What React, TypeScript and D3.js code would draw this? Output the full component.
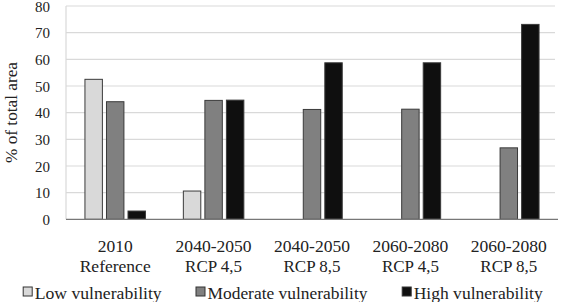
import React, { useEffect, useRef } from "react";
import * as d3 from "d3";

const categories = [
  ["2010", "Reference"],
  ["2040-2050", "RCP 4,5"],
  ["2040-2050", "RCP 8,5"],
  ["2060-2080", "RCP 4,5"],
  ["2060-2080", "RCP 8,5"],
];
const seriesNames = ["Low vulnerability", "Moderate vulnerability", "High vulnerability"];
const lowValues = [52.5, 10.6, 0, 0, 0];
const moderateValues = [44.1, 44.6, 41.2, 41.3, 26.8];
const highValues = [3.1, 44.7, 58.7, 58.7, 73.1];
const yTicks = [0, 10, 20, 30, 40, 50, 60, 70, 80];

const fills = ["#d9d9d9", "#808080", "#0f0f0f"];
const FONT = "'Liberation Serif', 'Times New Roman', Times, serif";

// set widths so the labels keep a narrow, Times-like footprint
const labelWidth: Record<string, number> = {
  "2010": 35,
  "2040-2050": 76,
  "2060-2080": 76,
  "Reference": 71,
  "RCP 4,5": 57,
  "RCP 8,5": 57,
  "Low vulnerability": 127,
  "Moderate vulnerability": 160,
  "High vulnerability": 129,
};

export default function App() {
  const ref = useRef<SVGSVGElement>(null);

  useEffect(() => {
    const svg = d3.select(ref.current);
    svg.selectAll("*").remove();

    const left = 66, right = 558, top = 6, bottom = 219.3;

    const x = d3.scaleBand<number>()
      .domain(d3.range(categories.length))
      .range([left, right])
      .padding(0);
    const inner = d3.scaleBand<number>()
      .domain([0, 1, 2])
      .range([0, x.bandwidth()])
      .paddingInner(0.19)
      .paddingOuter(0.88);
    const y = d3.scaleLinear().domain([0, 80]).range([bottom, top]);

    // gridlines
    svg.append("g")
      .selectAll("line")
      .data(yTicks.filter(t => t > 0))
      .join("line")
      .attr("x1", left)
      .attr("x2", right - 3)
      .attr("y1", d => y(d))
      .attr("y2", d => y(d))
      .attr("stroke", "#d9d9d9")
      .attr("stroke-width", 1.2);

    // left edge of plot area
    svg.append("line")
      .attr("x1", left).attr("x2", left)
      .attr("y1", top).attr("y2", bottom)
      .attr("stroke", "#d9d9d9")
      .attr("stroke-width", 1.2);

    // y tick labels
    svg.append("g")
      .selectAll("text")
      .data(yTicks)
      .join("text")
      .attr("x", 50)
      .attr("y", d => y(d) + 5.6)
      .attr("text-anchor", "end")
      .style("font-family", FONT)
      .style("font-size", "15px")
      .attr("fill", "#222")
      .text(d => d);

    // y axis title
    svg.append("text")
      .attr("transform", `translate(16.5, 112.5) rotate(-90)`)
      .attr("text-anchor", "middle")
      .attr("textLength", 101)
      .attr("lengthAdjust", "spacingAndGlyphs")
      .style("font-family", FONT)
      .style("font-size", "16px")
      .attr("fill", "#222")
      .text("% of total area");

    // bars
    const series = [lowValues, moderateValues, highValues];
    series.forEach((vals, si) => {
      svg.append("g")
        .selectAll("rect")
        .data(vals.map((v, i) => ({ v, i })).filter(d => d.v > 0))
        .join("rect")
        .attr("x", d => (x(d.i) as number) + (inner(si) as number))
        .attr("y", d => y(d.v))
        .attr("width", inner.bandwidth())
        .attr("height", d => bottom - y(d.v))
        .attr("fill", fills[si])
        .attr("stroke", "#3a3a3a")
        .attr("stroke-width", 1);
    });

    // x axis line
    svg.append("line")
      .attr("x1", left).attr("x2", right)
      .attr("y1", bottom).attr("y2", bottom)
      .attr("stroke", "#777")
      .attr("stroke-width", 1.3);

    // category labels
    const catG = svg.append("g");
    categories.forEach((lines, i) => {
      const cx = (x(i) as number) + x.bandwidth() / 2;
      lines.forEach((t, li) => {
        catG.append("text")
          .attr("x", cx)
          .attr("y", 252.3 + li * 19.4)
          .attr("text-anchor", "middle")
          .attr("textLength", labelWidth[t])
          .attr("lengthAdjust", "spacingAndGlyphs")
          .style("font-family", FONT)
          .style("font-size", "16.5px")
          .attr("fill", "#222")
          .text(t);
      });
    });

    // legend
    const legendX = [22.7, 195.5, 401.7];
    const leg = svg.append("g");
    seriesNames.forEach((name, i) => {
      leg.append("rect")
        .attr("x", legendX[i] + 0.5)
        .attr("y", 287)
        .attr("width", 9)
        .attr("height", 9)
        .attr("fill", fills[i])
        .attr("stroke", "#333")
        .attr("stroke-width", 1);
      leg.append("text")
        .attr("x", legendX[i] + 12)
        .attr("y", 299)
        .attr("textLength", labelWidth[name])
        .attr("lengthAdjust", "spacingAndGlyphs")
        .style("font-family", FONT)
        .style("font-size", "16.5px")
        .attr("fill", "#222")
        .text(name);
    });
  }, []);

  return (
    <svg
      ref={ref}
      width={563}
      height={302}
      style={{ position: "absolute", left: 0, top: 0, background: "#fff" }}
    />
  );
}
